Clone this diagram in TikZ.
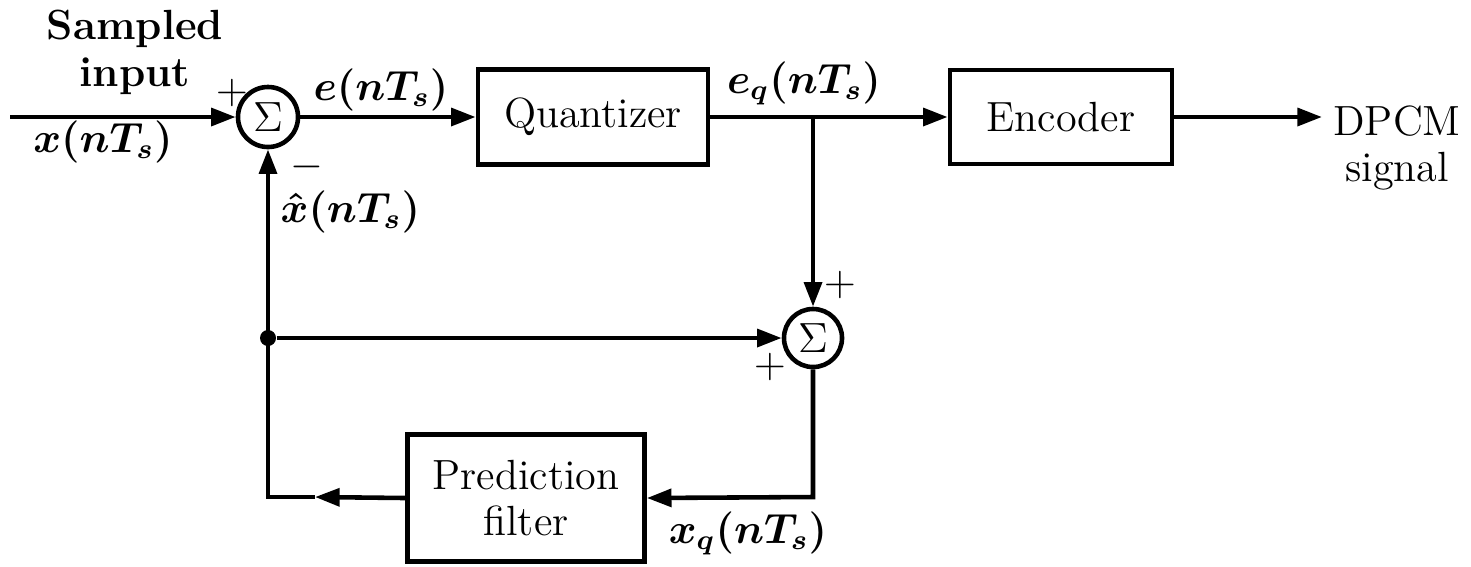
\documentclass[tikz,border=0pt]{standalone}
\usepackage{amsmath}
\usetikzlibrary{arrows.meta}

\begin{document}
\begin{tikzpicture}[x=0.01cm, y=-0.01cm,
  font=\fontsize{12}{13}\selectfont,
  block/.style={draw, line width=1.3pt, inner sep=0pt, align=center},
  sumnode/.style={draw, circle, line width=1.3pt, inner sep=0pt, font=\large},
  lbl/.style={inner sep=0pt, font=\fontsize{12}{13}\selectfont\boldmath},
  sgn/.style={inner sep=0pt, font=\fontsize{12}{13}\selectfont},
  wire/.style={line width=1.3pt},
  arr/.style={wire, -{Triangle[length=7pt,width=5pt]}},
]
\useasboundingbox (0,0) rectangle (1471,566);

% Blocks
\node[sumnode, minimum size=0.6cm] (sum1) at (268,117) {$\Sigma$};
\node[block, minimum width=2.30cm, minimum height=0.95cm] (quant) at (593,117) {Quantizer};
\node[block, minimum width=2.22cm, minimum height=0.94cm] (enc) at (1061,117) {Encoder};
\node[sumnode, minimum size=0.58cm] (sum2) at (813,338) {$\Sigma$};
\node[block, minimum width=2.37cm, minimum height=1.27cm] (pred) at (526,498) {Prediction\\filter};

% Input and output text
\node[align=center, inner sep=0pt, anchor=north, font=\fontsize{12}{13.6}\selectfont\bfseries]
  (inlbl) at (135,9) {Sampled\\input};
\node[align=center, inner sep=0pt, anchor=north] (outlbl) at (1397,105) {DPCM\\signal};

% Junctions and corners
\coordinate (in) at (10,117);
\coordinate (out) at (1322,117);
\coordinate (split) at (813,117);
\node[circle, fill, inner sep=0pt, minimum size=0.16cm] (dot) at (268,338) {};
\coordinate (bl) at (268,497);
\coordinate (br) at (813,497);
\coordinate (mid) at (315,497);

% Forward path
\draw[arr] (in) -- (sum1.west);
\draw[arr] (sum1.east) -- (quant.west);
\draw[arr] (quant.east) -- (enc.west);
\draw[arr] (enc.east) -- (out);
\draw[arr] (split) -- (sum2.north);

% Feedback path
\draw[arr] (dot) -- (sum2.west);
\draw[arr] (sum2.south) -- (br) -- (pred.east);
\draw[arr] (pred.west) -- (mid);
\draw[wire] (mid) -- (bl) -- (dot.center);
\draw[arr] (dot.center) -- (sum1.south);

% Signal labels
\node[lbl, anchor=base] (xin) at (103,152) {$x(nT_s)$};
\node[lbl, anchor=base] (err) at (381,100) {$e(nT_s)$};
\node[lbl, anchor=base] (errq) at (804,93) {$e_q(nT_s)$};
\node[lbl, anchor=base west] (xhat) at (280,222) {$\hat{x}(nT_s)$};
\node[lbl, anchor=base] (xq) at (748,543) {$x_q(nT_s)$};

% Signs
\node[sgn] (p1) at (232,93) {$+$};
\node[sgn] (m1) at (307,167) {$-$};
\node[sgn] (p2) at (840,285) {$+$};
\node[sgn] (p3) at (770,367) {$+$};

\end{tikzpicture}
\end{document}
